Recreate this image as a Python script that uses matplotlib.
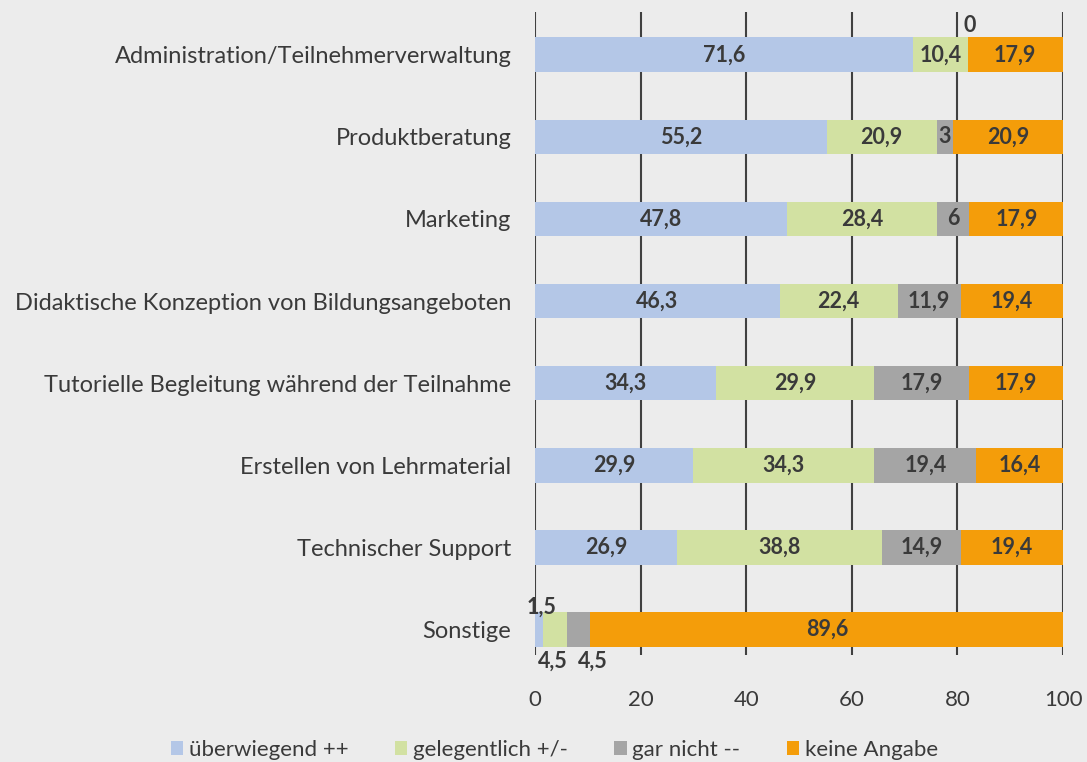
import matplotlib.pyplot as plt

categories = ['Administration/Teilnehmerverwaltung', 'Produktberatung', 'Marketing',
              'Didaktische Konzeption von Bildungsangeboten',
              'Tutorielle Begleitung während der Teilnahme', 'Erstellen von Lehrmaterial',
              'Technischer Support', 'Sonstige']
ueberwiegend = [71.6, 55.2, 47.8, 46.3, 34.3, 29.9, 26.9, 1.5]
gelegentlich = [10.4, 20.9, 28.4, 22.4, 29.9, 34.3, 38.8, 4.5]
gar_nicht = [0, 3, 6, 11.9, 17.9, 19.4, 14.9, 4.5]
keine_angabe = [17.9, 20.9, 17.9, 19.4, 17.9, 16.4, 19.4, 89.6]
series_names = ['überwiegend ++', 'gelegentlich +/-', 'gar nicht --', 'keine Angabe']
colors = ['#b4c7e7', '#d2e1a2', '#a5a5a5', '#f49d0a']

plt.rcParams['font.family'] = ['Lato', 'DejaVu Sans']
bg = '#ececec'
txt = '#3a3a3a'
vfs = 15.5

fig = plt.figure(figsize=(10.87, 7.62), dpi=100, facecolor=bg)
ax = fig.add_axes([0.4922, 0.1404, 0.4858, 0.8438], facecolor=bg)

ypos = list(range(len(categories)))
left = [0] * len(categories)
all_series = [ueberwiegend, gelegentlich, gar_nicht, keine_angabe]
for vals, name, c in zip(all_series, series_names, colors):
    ax.barh(ypos, vals, left=left, height=0.42, color=c, label=name, zorder=2)
    for i, v in enumerate(vals):
        # tiny segments get their labels outside the bar (below)
        if (i == 7 and v < 10) or v == 0:
            continue
        ax.text(left[i] + v / 2, i, f'{v:g}'.replace('.', ','), ha='center', va='center',
                fontsize=vfs, fontweight='bold', color=txt, zorder=3)
    left = [l + v for l, v in zip(left, vals)]

# labels outside the bars
ax.text(ueberwiegend[0] + gelegentlich[0] - 0.9, -0.36, '0', ha='left', va='center',
        fontsize=vfs, fontweight='bold', color=txt)
ax.text(1.3, 7 - 0.27, '1,5', ha='center', va='center', fontsize=vfs, fontweight='bold', color=txt)
ax.text(3.3, 7 + 0.38, '4,5', ha='center', va='center', fontsize=vfs, fontweight='bold', color=txt)
ax.text(11.0, 7 + 0.38, '4,5', ha='center', va='center', fontsize=vfs, fontweight='bold', color=txt)

ax.set_xlim(0, 100)
ax.set_ylim(7.31, -0.52)
ax.set_xticks([0, 20, 40, 60, 80, 100])
ax.set_yticks(ypos)
ax.set_yticklabels(categories)
ax.xaxis.grid(True, color='#404040', linewidth=1.5, zorder=0)
ax.set_axisbelow(True)
for s in ax.spines.values():
    s.set_visible(False)
ax.tick_params(axis='x', length=0, pad=25, labelsize=16, labelcolor=txt)
ax.tick_params(axis='y', length=0, pad=17, labelsize=17, labelcolor=txt)

fig.legend(loc='center', bbox_to_anchor=(0.51, 0.016), ncol=4, frameon=False,
           fontsize=16, handlelength=0.55, handleheight=0.55, handletextpad=0.25,
           columnspacing=2.1, labelcolor=txt, borderaxespad=0, borderpad=0)

fig.savefig('out.png', dpi=100, facecolor=bg)
